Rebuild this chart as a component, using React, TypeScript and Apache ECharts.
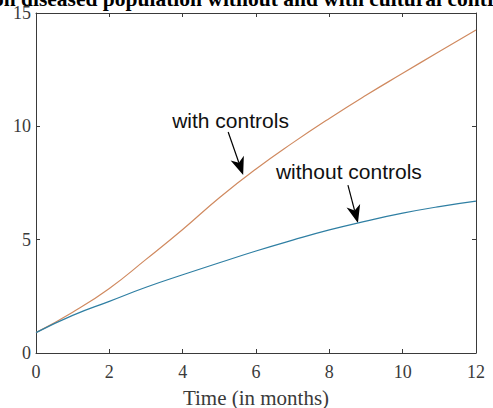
import React, { useEffect, useRef } from "react";
import * as echarts from "echarts";

const months = [0, 1, 2, 3, 4, 5, 6, 7, 8, 9, 10, 11, 12];
const withControls = [0.9, 1.8, 2.85, 4.13, 5.45, 6.85, 8.12, 9.27, 10.35, 11.37, 12.34, 13.3, 14.25];
const withoutControls = [0.9, 1.66, 2.28, 2.9, 3.45, 3.98, 4.5, 4.98, 5.43, 5.82, 6.17, 6.46, 6.7];
const xTicks = [0, 2, 4, 6, 8, 10, 12];
const yTicks = [0, 5, 10, 15];
const titleText = "on diseased population without and with cultural controls";
const xAxisName = "Time (in months)";
const annotations = [
  { text: "with controls", tip: [5.65, 7.85], tail: [-15, -43], textPos: [-71, -55] },
  { text: "without controls", tip: [8.78, 5.73], tail: [-10, -38], textPos: [-82, -52] },
];

const axisColor = "#3a3a3a";
const serif = "'Liberation Serif', 'Times New Roman', serif";
const sans = "'Liberation Sans', Arial, sans-serif";

export default function App() {
  const ref = useRef<HTMLDivElement>(null);
  useEffect(() => {
    if (!ref.current) return;
    const chart = echarts.init(ref.current, undefined, { renderer: "svg" });
    const baseAxis = {
      type: "value" as const,
      axisLine: { show: true, onZero: false, lineStyle: { color: axisColor, width: 1 } },
      axisTick: { show: true, inside: true, length: 4, lineStyle: { color: axisColor } },
      splitLine: { show: false },
    };
    chart.setOption({
      animation: false,
      backgroundColor: "#ffffff",
      grid: { left: 36, right: 17, top: 13, bottom: 55, containLabel: false, outerBoundsMode: "none" },
      xAxis: [
        {
          ...baseAxis,
          position: "bottom",
          min: xTicks[0],
          max: xTicks[xTicks.length - 1],
          interval: 2,
          name: xAxisName,
          nameLocation: "middle",
          nameGap: 34,
          nameTextStyle: { fontFamily: serif, fontSize: 21, color: axisColor },
          axisLabel: { show: true, margin: 10, fontFamily: serif, fontSize: 18, color: axisColor },
        },
        {
          ...baseAxis,
          position: "top",
          min: xTicks[0],
          max: xTicks[xTicks.length - 1],
          interval: 2,
          axisLabel: { show: false },
        },
      ],
      yAxis: [
        {
          ...baseAxis,
          position: "left",
          min: yTicks[0],
          max: yTicks[yTicks.length - 1],
          interval: 5,
          axisLabel: { show: true, margin: 5, fontFamily: serif, fontSize: 18, color: axisColor },
        },
        {
          ...baseAxis,
          position: "right",
          min: yTicks[0],
          max: yTicks[yTicks.length - 1],
          interval: 5,
          axisLabel: { show: false },
        },
      ],
      series: [
        {
          name: "with controls",
          type: "line",
          data: months.map((m, i) => [m, withControls[i]]),
          smooth: true,
          showSymbol: false,
          lineStyle: { color: "#d08a60", width: 1.2 },
          itemStyle: { color: "#d08a60" },
        },
        {
          name: "without controls",
          type: "line",
          data: months.map((m, i) => [m, withoutControls[i]]),
          smooth: true,
          showSymbol: false,
          lineStyle: { color: "#2f7fa3", width: 1.2 },
          itemStyle: { color: "#2f7fa3" },
        },
      ],
    });

    const graphics: any[] = [
      {
        type: "text",
        x: 257,
        y: -1,
        style: {
          text: titleText,
          font: `bold 21.5px ${serif}`,
          fill: "#000",
          align: "center",
          verticalAlign: "middle",
        },
      },
    ];
    annotations.forEach((a) => {
      const p = chart.convertToPixel({ gridIndex: 0 }, a.tip) as number[];
      const tx = p[0] + a.tail[0];
      const ty = p[1] + a.tail[1];
      const dx = p[0] - tx;
      const dy = p[1] - ty;
      const len = Math.hypot(dx, dy);
      const ux = dx / len;
      const uy = dy / len;
      const nx = -uy;
      const ny = ux;
      const headLen = 18;
      const half = 7;
      const notch = 5;
      const bx = p[0] - ux * headLen;
      const by = p[1] - uy * headLen;
      graphics.push({
        type: "line",
        shape: { x1: tx, y1: ty, x2: bx + ux * notch, y2: by + uy * notch },
        style: { stroke: "#000", lineWidth: 1.2 },
      });
      graphics.push({
        type: "polygon",
        shape: {
          points: [
            [p[0], p[1]],
            [bx + nx * half, by + ny * half],
            [bx + ux * notch, by + uy * notch],
            [bx - nx * half, by - ny * half],
          ],
        },
        style: { fill: "#000" },
      });
      graphics.push({
        type: "text",
        x: p[0] + a.textPos[0],
        y: p[1] + a.textPos[1],
        style: {
          text: a.text,
          font: `21px ${sans}`,
          fill: "#111",
          align: "left",
          verticalAlign: "middle",
        },
      });
    });
    chart.setOption({ graphic: graphics });

    return () => chart.dispose();
  }, []);
  return <div ref={ref} style={{ width: 493, height: 408, position: "absolute", left: 0, top: 0 }} />;
}
